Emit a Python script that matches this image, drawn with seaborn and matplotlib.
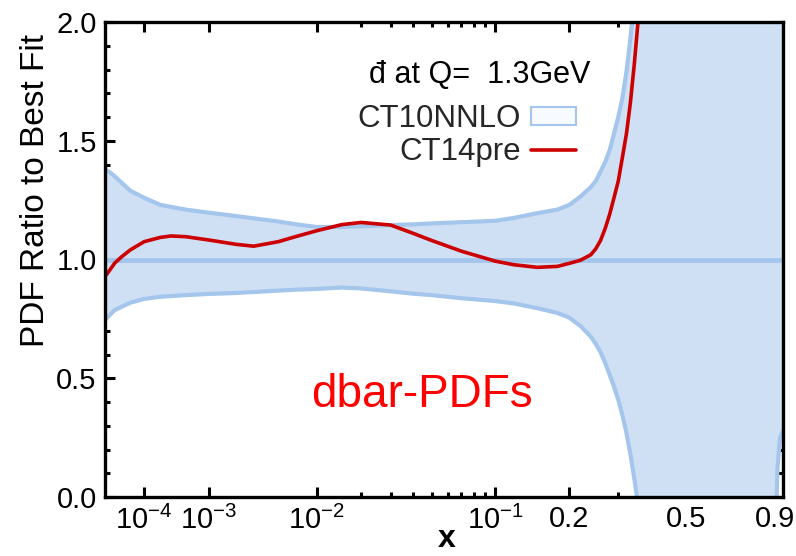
import numpy as np
import matplotlib
matplotlib.use("Agg")
import matplotlib.pyplot as plt
import seaborn as sns
from matplotlib.patches import Patch
from matplotlib.lines import Line2D
from matplotlib.ticker import FixedLocator, FixedFormatter, NullFormatter

# ---------------- data ----------------
x_band = [1e-5, 1.5e-5, 2e-5, 3e-5, 5e-5, 1e-4, 2e-4, 5e-4, 1e-3, 2e-3, 5e-3, 7e-3, 1e-2,
          1.5e-2, 2e-2, 3e-2, 4e-2, 5e-2, 0.07, 0.1, 0.12, 0.15, 0.18, 0.2,
          0.22, 0.24, 0.25, 0.26, 0.27, 0.28, 0.29, 0.3, 0.31, 0.32, 0.33, 0.34,
          0.35, 0.36, 0.4, 0.5, 0.6, 0.7, 0.8, 0.9, 0.915, 0.93, 0.947]
ct10_upper = [1.38, 1.365, 1.35, 1.325, 1.29, 1.26, 1.23, 1.21, 1.197, 1.183, 1.16, 1.148, 1.137,
              1.137, 1.14, 1.145, 1.148, 1.152, 1.157, 1.163, 1.175, 1.195, 1.21, 1.23,
              1.265, 1.305, 1.33, 1.37, 1.41, 1.46, 1.53, 1.60, 1.68, 1.79, 1.93, 2.1,
              2.3, 2.5, 3.0, 5.0, 7.0, 9.0, 10.0, 12.0, 12.0, 12.0, 12.0]
ct10_lower = [0.745, 0.77, 0.787, 0.80, 0.818, 0.834, 0.843, 0.85, 0.855, 0.859, 0.869, 0.873, 0.876,
              0.882, 0.878, 0.866, 0.856, 0.85, 0.837, 0.825, 0.815, 0.795, 0.775, 0.755,
              0.72, 0.675, 0.645, 0.61, 0.565, 0.515, 0.465, 0.41, 0.345, 0.27, 0.18, 0.08,
              -0.03, -0.15, -0.6, -2.0, -3.0, -4.0, -4.0, -0.3, 0.12, 0.25, 0.28]

x_ct14 = [1e-5, 1.5e-5, 2e-5, 3e-5, 5e-5, 1e-4, 2e-4, 3e-4, 5e-4, 1e-3, 2e-3, 3e-3, 5e-3, 7e-3,
          1e-2, 1.5e-2, 2e-2, 3e-2, 4e-2, 5e-2, 0.07, 0.1, 0.12, 0.15, 0.18, 0.2,
          0.22, 0.24, 0.25, 0.26, 0.27, 0.28, 0.29, 0.3, 0.31, 0.32, 0.33, 0.34, 0.35, 0.36, 0.4]
ct14 = [0.928, 0.96, 0.985, 1.01, 1.04, 1.075, 1.093, 1.099, 1.096, 1.082, 1.064, 1.056, 1.075, 1.097,
        1.121, 1.147, 1.156, 1.145, 1.11, 1.08, 1.035, 0.993, 0.978, 0.967, 0.971, 0.984,
        0.997, 1.02, 1.045, 1.08, 1.13, 1.19, 1.26, 1.33, 1.43, 1.53, 1.66, 1.82, 2.0, 2.25, 3.0]

best_fit_ratio = 1.0

x_major_ticks = [1e-4, 1e-3, 1e-2, 1e-1, 0.2, 0.5, 0.9]
x_major_labels = [r"$10^{-4}$", r"$10^{-3}$", r"$10^{-2}$", r"$10^{-1}$", "0.2", "0.5", "0.9"]
x_minor_ticks = [0.02, 0.03, 0.04, 0.05, 0.06, 0.07, 0.08, 0.09, 0.3, 0.4, 0.6, 0.7, 0.8]
y_major_ticks = [0.0, 0.5, 1.0, 1.5, 2.0]
y_major_labels = ["0.0", "0.5", "1.0", "1.5", "2.0"]
y_minor_ticks = [0.1, 0.2, 0.3, 0.4, 0.6, 0.7, 0.8, 0.9, 1.1, 1.2, 1.3, 1.4, 1.6, 1.7, 1.8, 1.9]

# ---------------- style ----------------
sns.set_theme(style="ticks")
plt.rcParams["font.family"] = ["Liberation Sans", "DejaVu Sans"]
plt.rcParams["mathtext.fontset"] = "custom"
plt.rcParams["mathtext.rm"] = "Liberation Sans"
plt.rcParams["mathtext.it"] = "Liberation Sans:italic"
plt.rcParams["mathtext.bf"] = "Liberation Sans:bold"

band_fill = "#cfe0f4"
band_edge = "#a4c6ec"
red = "#cc0000"

fig = plt.figure(figsize=(7.96, 5.56), dpi=100)
ax = fig.add_axes([105 / 796, 1 - 497 / 556, 678 / 796, 475 / 556])

P = 0.22
ax.set_xscale("function", functions=(lambda v: np.power(np.clip(v, 1e-30, None), P),
                                     lambda v: np.power(np.clip(v, 0, None), 1 / P)))

ax.fill_between(x_band, ct10_lower, ct10_upper, color=band_fill, lw=0, zorder=1)
sns.lineplot(x=x_band, y=ct10_upper, color=band_edge, lw=3, ax=ax, sort=False,
             estimator=None, zorder=2)
sns.lineplot(x=x_band, y=ct10_lower, color=band_edge, lw=3, ax=ax, sort=False,
             estimator=None, zorder=2)
ax.axhline(best_fit_ratio, color=band_edge, lw=3.5, zorder=3)
sns.lineplot(x=x_ct14, y=ct14, color=red, lw=2.6, ax=ax, sort=False,
             estimator=None, zorder=4)

ax.set_xlim(1e-5, 0.947)
ax.set_ylim(0, 2)

ax.xaxis.set_major_locator(FixedLocator(x_major_ticks))
ax.xaxis.set_major_formatter(FixedFormatter(x_major_labels))
ax.xaxis.set_minor_locator(FixedLocator(x_minor_ticks))
ax.xaxis.set_minor_formatter(NullFormatter())
ax.yaxis.set_major_locator(FixedLocator(y_major_ticks))
ax.yaxis.set_major_formatter(FixedFormatter(y_major_labels))
ax.yaxis.set_minor_locator(FixedLocator(y_minor_ticks))

ax.tick_params(which="both", direction="in", top=True, right=True, color="black",
               labelsize=21, labelcolor="black")
ax.tick_params(which="major", length=7, width=2.2, pad=6)
ax.tick_params(which="minor", length=3.5, width=2.2)
for s in ax.spines.values():
    s.set_linewidth(2.4)
    s.set_color("black")
    s.set_zorder(6)

ax.set_ylabel("PDF Ratio to Best Fit", fontsize=24, color="black")
ax.yaxis.set_label_coords(-0.079, 0.646)
ax.set_xlabel("x", fontsize=23, fontweight="bold", color="black")
ax.xaxis.set_label_coords(0.504, -0.056)

ax.text((590 - 105) / 678, (497 - 83) / 475, "đ at Q=  1.3GeV", fontsize=22,
        ha="right", va="baseline", color="black", transform=ax.transAxes, zorder=7)

handles = [Patch(facecolor="#f7fafe", edgecolor=band_edge, lw=1.5),
           Line2D([0], [0], color=red, lw=2.6)]
ax.legend(handles, ["CT10NNLO", "CT14pre"], loc="upper right",
          bbox_to_anchor=((576 - 105) / 678, (497 - 104) / 475), frameon=False,
          markerfirst=False, fontsize=22.5, handlelength=1.44, handleheight=0.5,
          handletextpad=0.32, labelspacing=0.1, borderpad=0, borderaxespad=0)

ax.text((422 - 105) / 678, (497 - 407) / 475, "dbar-PDFs", fontsize=33,
        color="#ff0000", ha="center", va="baseline", transform=ax.transAxes, zorder=7)

fig.savefig("out.png", dpi=100)
